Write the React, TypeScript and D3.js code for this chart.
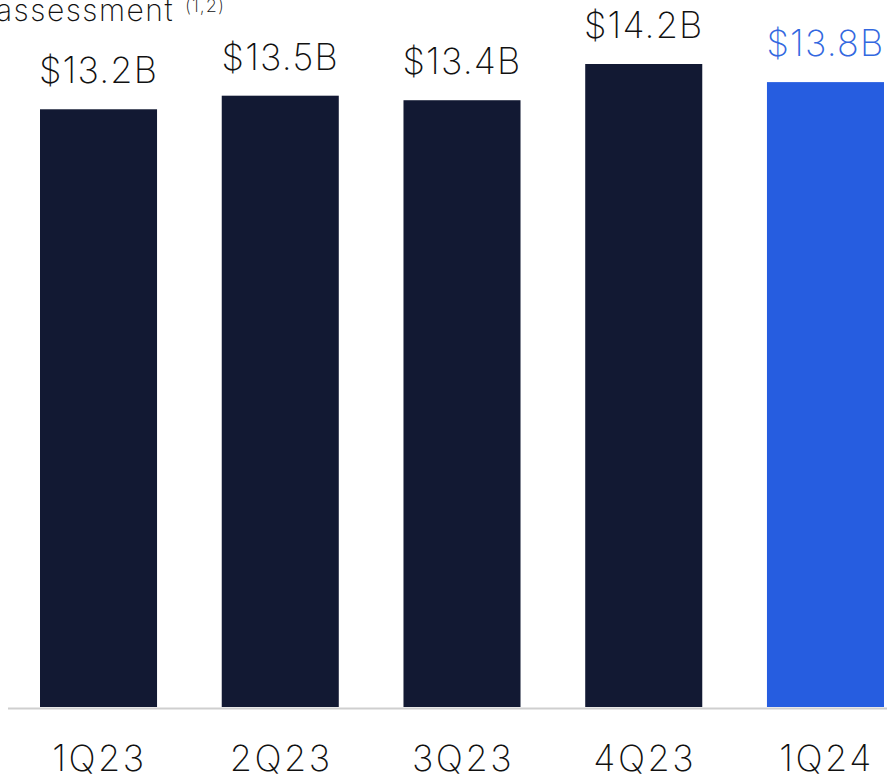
import React from "react";
import * as d3 from "d3";

const categories = ["1Q23", "2Q23", "3Q23", "4Q23", "1Q24"];
const values = [13.2, 13.5, 13.4, 14.2, 13.8];
const valueLabels = ["$13.2B", "$13.5B", "$13.4B", "$14.2B", "$13.8B"];
const highlightIndex = 4;

const W = 887;
const H = 774;
const FONT = "Inter, Roboto, sans-serif";
const NAVY = "#121933";
const BLUE = "#265de0";
const BLUE_TEXT = "#3368e0";

export default function App() {
  const baseline = 707;
  const x = d3
    .scaleBand<string>()
    .domain(categories)
    .range([40, 884])
    .paddingInner(0.356)
    .paddingOuter(0);
  const y = d3.scaleLinear().domain([0, 14.2]).range([baseline, 64]);

  return (
    <svg
      width={W}
      height={H}
      style={{ position: "absolute", left: 0, top: 0, background: "#fff" }}
      fontFamily={FONT}
    >
      <rect x={0} y={0} width={W} height={H} fill="#fff" />
      <text x={174} y={21} textAnchor="end" fontSize={30} fontWeight={250} letterSpacing={1.5} fill="#111">
        assessment
      </text>
      <text x={185} y={12} fontSize={18} fontWeight={250} letterSpacing={1} fill="#111">
        (1,2)
      </text>
      <line x1={8} x2={W} y1={baseline + 1.5} y2={baseline + 1.5} stroke="#cfcfcf" strokeWidth={2} />
      {categories.map((c, i) => {
        const bx = x(c)!;
        const bw = x.bandwidth();
        const top = y(values[i]);
        const hl = i === highlightIndex;
        return (
          <g key={c}>
            <rect x={bx} y={top} width={bw} height={baseline - top} fill={hl ? BLUE : NAVY} />
            <text
              x={bx + bw / 2}
              y={top - 26}
              textAnchor="middle"
              fontSize={36}
              fontWeight={250}
              letterSpacing={1.2}
              fill={hl ? BLUE_TEXT : "#111"}
            >
              {valueLabels[i]}
            </text>
            <text
              x={bx + bw / 2 + 1}
              y={771}
              textAnchor="middle"
              fontSize={36}
              fontWeight={250}
              letterSpacing={2.5}
              fill="#111"
            >
              {c}
            </text>
          </g>
        );
      })}
    </svg>
  );
}
